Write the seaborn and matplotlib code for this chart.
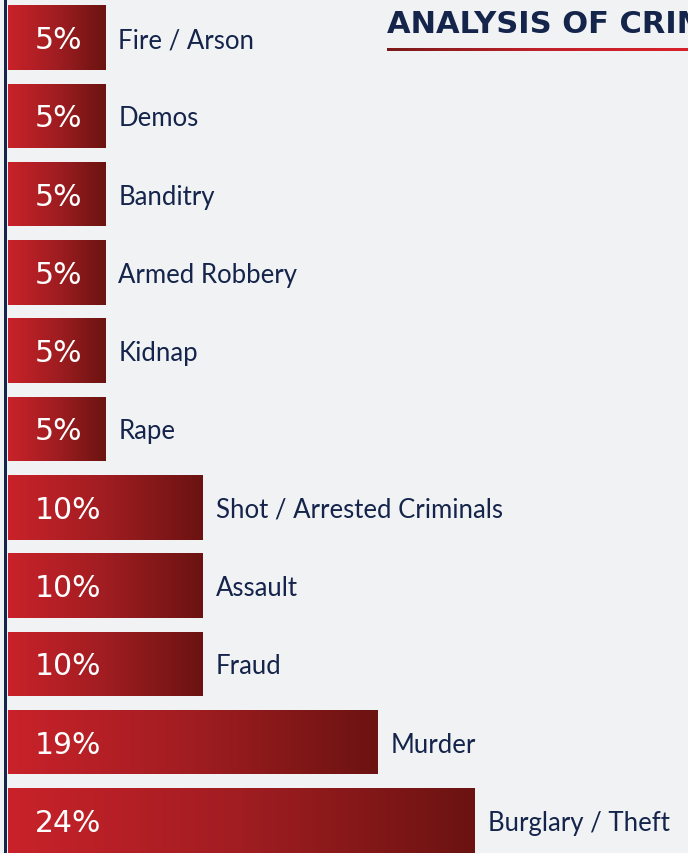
import matplotlib
matplotlib.use("Agg")
import matplotlib.pyplot as plt
import seaborn as sns
import numpy as np
import pandas as pd
from matplotlib.colors import LinearSegmentedColormap
from matplotlib.patches import Rectangle

categories = ["Fire / Arson", "Demos", "Banditry", "Armed Robbery", "Kidnap", "Rape",
              "Shot / Arrested Criminals", "Assault", "Fraud", "Murder", "Burglary / Theft"]
values = [5, 5, 5, 5, 5, 5, 10, 10, 10, 19, 24]
value_labels = ["5%", "5%", "5%", "5%", "5%", "5%", "10%", "10%", "10%", "19%", "24%"]
title_text = "ANALYSIS OF CRIME"

BG = "#F1F2F4"
NAVY = "#14244A"

sns.set_theme(style="white")
plt.rcParams['font.family'] = ['Lato', 'DejaVu Sans']

W, H = 688, 854
fig = plt.figure(figsize=(W / 100, H / 100), dpi=100, facecolor=BG)
ax = fig.add_axes([8 / W, 0, (W - 8) / W, 1])
ax.set_facecolor(BG)

df = pd.DataFrame({"category": categories, "value": values})
sns.barplot(data=df, x="value", y="category", orient="h", ax=ax,
            color="#B01E24", width=0.824, saturation=1)

px_per_unit = 467 / 24
xmax = (W - 8) / px_per_unit
row = 78.3
c0 = 38.5
ax.set_xlim(0, xmax)
ax.set_ylim((H - c0) / row, -c0 / row)

cmap = LinearSegmentedColormap.from_list("bar", ["#C9222A", "#A01D21", "#6B1311"])
grad = np.linspace(0, 1, 256).reshape(1, -1)
for p in list(ax.patches):
    x0, y0 = p.get_x(), p.get_y()
    w, h = p.get_width(), p.get_height()
    im = ax.imshow(grad, extent=[x0, x0 + w, y0 + h, y0], aspect="auto",
                   cmap=cmap, zorder=2, interpolation="bicubic")
    im.set_clip_path(p)
    p.set_facecolor("none")
    p.set_edgecolor("none")
ax.set_xlim(0, xmax)
ax.set_ylim((H - c0) / row, -c0 / row)

for i, (cat, v, lab) in enumerate(zip(categories, values, value_labels)):
    ax.annotate(lab, xy=(0, i), xytext=(27, -2), textcoords="offset pixels",
                ha="left", va="center", color="white", fontsize=21.5,
                family=["DejaVu Sans"], zorder=5)
    ax.annotate(cat, xy=(v, i), xytext=(13, -2), textcoords="offset pixels",
                ha="left", va="center", color=NAVY, fontsize=18.5, zorder=5)

ax.set_xlabel("")
ax.set_ylabel("")
ax.set_xticks([])
ax.set_yticks([])
for s in ax.spines.values():
    s.set_visible(False)

# left navy rule
fig.add_artist(Rectangle((4 / W, 0), 3 / W, 1, transform=fig.transFigure,
                         facecolor=NAVY, edgecolor="none"))

# title (cut at the right edge, as in the reference)
fig.text(387 / W, 1 - 33 / H, title_text, color=NAVY, fontsize=22,
         fontweight="bold", family=["DejaVu Sans"], ha="left", va="baseline")
lax = fig.add_axes([387 / W, 1 - 51.5 / H, (W - 387) / W, 2.5 / H])
lax.imshow(grad, aspect="auto",
           cmap=LinearSegmentedColormap.from_list("ln", ["#7A1A1A", "#C0202A", "#D8222A"]),
           extent=[0, 1, 0, 1])
lax.set_axis_off()

fig.savefig("out.png", dpi=100, facecolor=BG)
